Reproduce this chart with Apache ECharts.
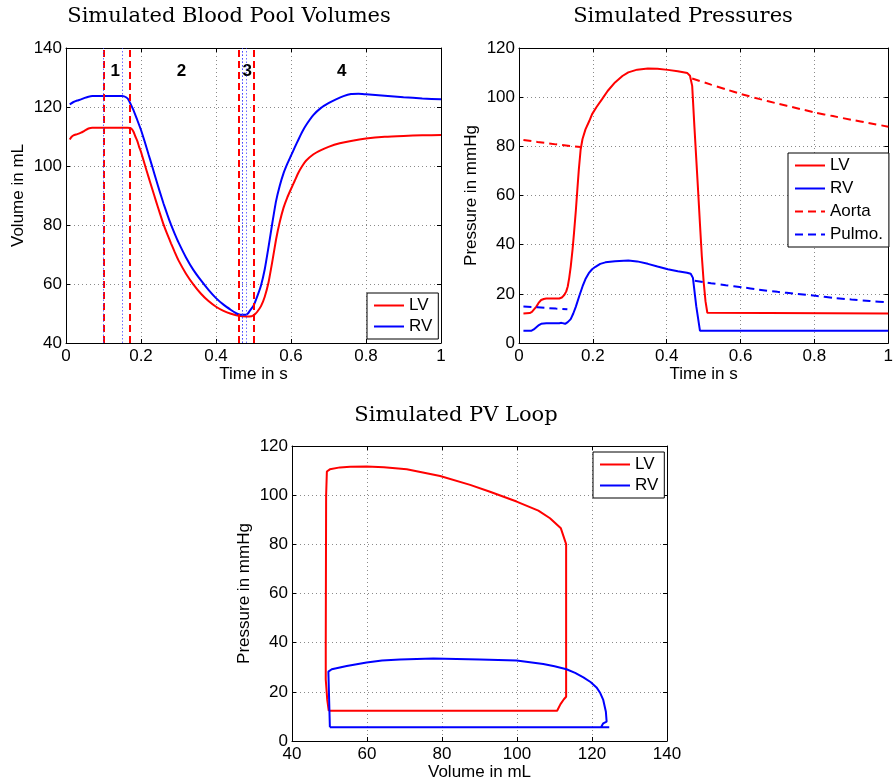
<!DOCTYPE html>
<html><head><meta charset="utf-8">
<script src="https://cdn.jsdelivr.net/npm/echarts@6/dist/echarts.min.js"></script>
<style>html,body{margin:0;padding:0;background:#fff}#c{width:896px;height:783px}</style>
</head><body><div id="c"></div>
<script>
// ---------- data ----------
const titles = ['Simulated Blood Pool Volumes', 'Simulated Pressures', 'Simulated PV Loop'];
const seriesNames = ['LV', 'RV', 'Aorta', 'Pulmo.'];

// [time s, volume mL]
const lvVolume = [[0.01,109.0],[0.015,109.9],[0.02,110.4],[0.03,110.8],[0.04,111.3],[0.05,112.0],[0.06,112.7],[0.07,113.0],[0.1,113.0],[0.13,113.0],[0.165,113.0],[0.17,112.9],[0.175,112.6],[0.18,111.6],[0.185,110.0],[0.19,108.5],[0.195,106.5],[0.2,104.8],[0.21,100.5],[0.22,96.3],[0.23,92.2],[0.24,88.1],[0.25,84.1],[0.26,80.2],[0.27,76.9],[0.28,73.8],[0.29,70.8],[0.3,68.0],[0.32,63.5],[0.34,59.8],[0.36,56.7],[0.38,54.2],[0.4,52.3],[0.42,50.9],[0.44,49.9],[0.46,49.2],[0.48,49.0],[0.495,49.1],[0.5,49.4],[0.505,49.9],[0.51,50.6],[0.52,52.5],[0.53,55.7],[0.54,60.5],[0.55,67.5],[0.56,75.0],[0.57,81.0],[0.58,85.8],[0.59,89.3],[0.6,92.2],[0.61,95.0],[0.62,97.8],[0.63,100.0],[0.64,101.8],[0.66,104.0],[0.68,105.4],[0.7,106.5],[0.73,107.7],[0.76,108.5],[0.8,109.3],[0.85,109.9],[0.9,110.2],[0.95,110.4],[1.0,110.5]];
const rvVolume = [[0.01,120.9],[0.02,121.7],[0.03,122.2],[0.04,122.6],[0.05,123.1],[0.06,123.5],[0.07,123.7],[0.1,123.7],[0.15,123.7],[0.155,123.6],[0.16,123.3],[0.165,122.8],[0.17,121.6],[0.175,120.3],[0.18,118.9],[0.19,115.6],[0.2,112.2],[0.21,108.2],[0.22,104.0],[0.23,99.8],[0.24,95.5],[0.25,91.3],[0.26,87.3],[0.27,83.6],[0.28,80.1],[0.29,77.0],[0.3,74.1],[0.32,69.0],[0.34,64.7],[0.36,61.2],[0.38,58.0],[0.4,55.2],[0.42,53.0],[0.44,51.2],[0.455,50.0],[0.465,49.6],[0.48,49.6],[0.485,50.0],[0.49,50.9],[0.5,52.6],[0.51,55.8],[0.52,59.5],[0.53,65.0],[0.54,72.5],[0.55,80.5],[0.56,88.0],[0.57,93.3],[0.58,97.5],[0.59,100.7],[0.6,103.5],[0.61,106.3],[0.62,109.0],[0.63,111.6],[0.64,113.8],[0.66,117.3],[0.68,119.7],[0.7,121.3],[0.72,122.6],[0.74,123.7],[0.76,124.4],[0.78,124.5],[0.8,124.3],[0.85,123.8],[0.9,123.3],[0.95,122.9],[1.0,122.6]];

// valve events (s) and phase labels
const valveEventsLV = [0.1, 0.17, 0.46, 0.5];
const valveEventsRV = [0.1, 0.15, 0.465, 0.472, 0.48];
const phaseNames = ['1', '2', '3', '4'];
const phaseTimes = [0.131, 0.308, 0.483, 0.735];
const phaseLabelLevel = 132;

// [time s, pressure mmHg]
const lvPressure = [[0.012,12.0],[0.029,12.2],[0.035,12.7],[0.04,13.4],[0.047,14.8],[0.053,16.3],[0.06,17.5],[0.067,17.9],[0.074,18.1],[0.109,18.1],[0.116,18.5],[0.123,19.6],[0.128,21.0],[0.132,23.0],[0.136,26.5],[0.14,31.0],[0.145,38.0],[0.149,44.8],[0.154,54.0],[0.158,62.4],[0.162,70.5],[0.167,78.8],[0.172,83.0],[0.18,86.9],[0.19,90.2],[0.198,93.1],[0.21,96.0],[0.225,99.2],[0.24,102.5],[0.26,106.0],[0.28,108.6],[0.296,110.1],[0.32,111.2],[0.349,111.7],[0.375,111.6],[0.403,111.1],[0.43,110.5],[0.456,109.8],[0.463,108.7],[0.469,104.6],[0.475,88.0],[0.48,75.0],[0.485,62.0],[0.49,48.5],[0.495,35.5],[0.5,25.0],[0.505,17.0],[0.51,12.3],[0.513,12.0],[1.0,12.0]];
const rvPressure = [[0.012,5.0],[0.034,5.0],[0.04,5.5],[0.047,6.4],[0.054,7.3],[0.06,7.8],[0.074,8.0],[0.109,8.0],[0.115,8.2],[0.125,7.8],[0.132,8.5],[0.14,9.7],[0.147,12.0],[0.154,14.8],[0.163,19.0],[0.172,23.0],[0.18,26.0],[0.189,28.4],[0.198,30.0],[0.207,31.0],[0.22,32.2],[0.234,32.8],[0.26,33.3],[0.296,33.6],[0.32,33.2],[0.349,32.2],[0.375,31.1],[0.403,30.0],[0.43,29.2],[0.455,28.6],[0.465,28.2],[0.471,26.5],[0.48,15.0],[0.49,5.0],[1.0,5.0]];
const aortaPressureEarly = [[0.012,82.6],[0.05,81.8],[0.1,80.8],[0.167,79.7]];
const aortaPressureLate = [[0.469,107.6],[0.52,105.1],[0.56,103.2],[0.603,101.2],[0.65,99.3],[0.7,97.4],[0.75,95.6],[0.803,93.7],[0.85,92.3],[0.9,90.8],[0.95,89.4],[1.0,88.0]];
const pulmoPressureEarly = [[0.012,14.8],[0.05,14.5],[0.1,14.0],[0.131,13.7]];
const pulmoPressureLate = [[0.476,25.3],[0.52,24.3],[0.56,23.5],[0.603,22.7],[0.65,21.7],[0.7,20.8],[0.75,20.0],[0.803,19.2],[0.85,18.4],[0.9,17.7],[0.95,17.1],[1.0,16.5]];

// [volume mL, pressure mmHg]
const lvLoop = [[49.8,12.3],[70,12.3],[90,12.3],[108.8,12.3],[110.7,12.3],[111.6,15.0],[112.5,17.0],[113.1,18.0],[113.1,80.1],[111.7,86.5],[108.8,90.6],[105.7,93.7],[99.9,97.4],[92.8,101.4],[87.5,104.2],[79.5,107.8],[70.6,110.5],[64.5,111.4],[59.9,111.7],[55.5,111.6],[52.8,111.3],[50.1,110.5],[49.3,109.6],[49.1,100],[49.0,40],[49.0,25],[49.4,16.7],[49.8,12.3]];
const rvLoop = [[50.1,5.6],[124.6,5.6],[122.4,5.6],[123.0,7.2],[123.9,7.9],[123.7,11.9],[123.0,16.7],[122.2,19.5],[121.2,21.8],[119.6,24.0],[117.7,25.9],[115.5,27.7],[113.2,29.2],[110.0,30.4],[107.0,31.3],[99.9,32.7],[90.1,33.2],[77.7,33.6],[68.8,33.2],[64.0,32.7],[59.9,31.9],[54.6,30.5],[50.6,29.2],[49.7,28.2],[50.1,5.6]];

// ---------- styling ----------
const SANS = "'Liberation Sans', Arial, Helvetica, sans-serif";
const SERIF = "'DejaVu Serif', 'Liberation Serif', serif";
const RED = '#ff0000', BLUE = '#0000ff';

const grids = [
  {left: 66, top: 48, width: 375, height: 295},
  {left: 519, top: 48, width: 375, height: 295},
  {left: 292, top: 446, width: 375, height: 295}
];
const axisSpec = [
  {x: {min: 0, max: 1, interval: 0.2, name: 'Time in s'}, y: {min: 40, max: 140, interval: 20, name: 'Volume in mL'}},
  {x: {min: 0, max: 1, interval: 0.2, name: 'Time in s'}, y: {min: 0, max: 120, interval: 20, name: 'Pressure in mmHg'}},
  {x: {min: 40, max: 140, interval: 20, name: 'Volume in mL'}, y: {min: 0, max: 120, interval: 20, name: 'Pressure in mmHg'}}
];

const lineAx = {show: true, onZero: false, lineStyle: {color: '#000', width: 1}};
const tickAx = {show: true, inside: true, length: 4, lineStyle: {color: '#000', width: 1}};
const lblStyle = {fontFamily: SANS, fontSize: 17, color: '#000'};
const gridLine = {show: true, lineStyle: {color: '#8a8a8a', width: 1, type: [1, 3]}};

const xAxes = [], yAxes = [];
axisSpec.forEach((s, i) => {
  xAxes.push({type: 'value', gridIndex: i, min: s.x.min, max: s.x.max, interval: s.x.interval, position: 'bottom',
    name: s.x.name, nameLocation: 'middle', nameGap: 21, nameTextStyle: {...lblStyle, verticalAlign: 'top'},
    axisLine: lineAx, axisTick: tickAx, axisLabel: {...lblStyle, margin: 5}, splitLine: gridLine});
  xAxes.push({type: 'value', gridIndex: i, min: s.x.min, max: s.x.max, interval: s.x.interval, position: 'top',
    axisLine: lineAx, axisTick: tickAx, axisLabel: {show: false}, splitLine: {show: false}});
  yAxes.push({type: 'value', gridIndex: i, min: s.y.min, max: s.y.max, interval: s.y.interval, position: 'left',
    name: s.y.name, nameLocation: 'middle', nameGap: 39, nameRotate: 90, nameTextStyle: lblStyle,
    axisLine: lineAx, axisTick: tickAx, axisLabel: {...lblStyle, margin: 4}, splitLine: gridLine});
  yAxes.push({type: 'value', gridIndex: i, min: s.y.min, max: s.y.max, interval: s.y.interval, position: 'right',
    axisLine: lineAx, axisTick: tickAx, axisLabel: {show: false}, splitLine: {show: false}});
});

function lineSeries(name, data, grid, color, dashed, smooth) {
  return {type: 'line', name, data, xAxisIndex: grid * 2, yAxisIndex: grid * 2, symbol: 'none', showSymbol: false,
    smooth: smooth ? 0.15 : false, z: 3,
    lineStyle: {color, width: 2, type: dashed ? [8, 5] : 'solid'}, itemStyle: {color}};
}

const markData = [];
valveEventsLV.forEach(t => markData.push({xAxis: t, lineStyle: {color: RED, width: 2, type: [7, 4]}}));
valveEventsRV.forEach(t => markData.push({xAxis: t, lineStyle: {color: 'rgba(60,60,255,0.75)', width: 1, type: [1.5, 2]}}));

const phaseSeries = {
  type: 'scatter', name: 'phases', xAxisIndex: 0, yAxisIndex: 0, z: 2,
  data: phaseTimes.map((t, i) => ({value: [t, phaseLabelLevel], label: {formatter: phaseNames[i]}})),
  symbolSize: 0, itemStyle: {color: '#000', opacity: 1},
  label: {show: true, position: [0, 0], align: 'center', verticalAlign: 'middle', fontFamily: SANS,
    fontWeight: 'bold', fontSize: 17, color: '#000', textBorderWidth: 0},
  markLine: {silent: true, symbol: ['none', 'none'], label: {show: false}, animation: false, data: markData}
};

const series = [
  phaseSeries,
  lineSeries('LV', lvVolume, 0, RED, false, true),
  lineSeries('RV', rvVolume, 0, BLUE, false, true),
  lineSeries('LV', lvPressure, 1, RED, false, false),
  lineSeries('RV', rvPressure, 1, BLUE, false, false),
  lineSeries('Aorta', aortaPressureEarly, 1, RED, true, false),
  lineSeries('Aorta', aortaPressureLate, 1, RED, true, true),
  lineSeries('Pulmo.', pulmoPressureEarly, 1, BLUE, true, false),
  lineSeries('Pulmo.', pulmoPressureLate, 1, BLUE, true, true),
  lineSeries('LV', lvLoop, 2, RED, false, false),
  lineSeries('RV', rvLoop, 2, BLUE, false, false)
];

function legendBox(names, left, top, gap) {
  return {data: names, left, top, orient: 'vertical', itemWidth: 30, itemHeight: 12, itemGap: gap,
    padding: [4, 6, 4, 6], borderColor: '#000', borderWidth: 1, backgroundColor: '#fff', borderRadius: 0,
    selectedMode: false, itemStyle: {opacity: 0, borderWidth: 0},
    textStyle: {fontFamily: SANS, fontSize: 17, color: '#000'}};
}

const titleCenters = [[229, 17], [683, 17], [456, 416]];
const option = {
  animation: false,
  backgroundColor: '#fff',
  title: titles.map((t, i) => ({text: t, left: titleCenters[i][0], top: titleCenters[i][1], textAlign: 'center',
    textVerticalAlign: 'middle', padding: 0, textStyle: {fontFamily: SERIF, fontSize: 21, fontWeight: 'normal', color: '#000'}})),
  grid: grids.map(g => ({...g, containLabel: false})),
  xAxis: xAxes,
  yAxis: yAxes,
  legend: [
    legendBox(seriesNames.slice(0, 2), 367, 293, 4),
    legendBox(seriesNames, 788, 153, 6),
    legendBox(seriesNames.slice(0, 2), 593, 452, 4)
  ],
  series
};
const chart = echarts.init(document.getElementById('c'), null, {renderer: 'canvas'});
chart.setOption(option);
</script>
</body></html>
